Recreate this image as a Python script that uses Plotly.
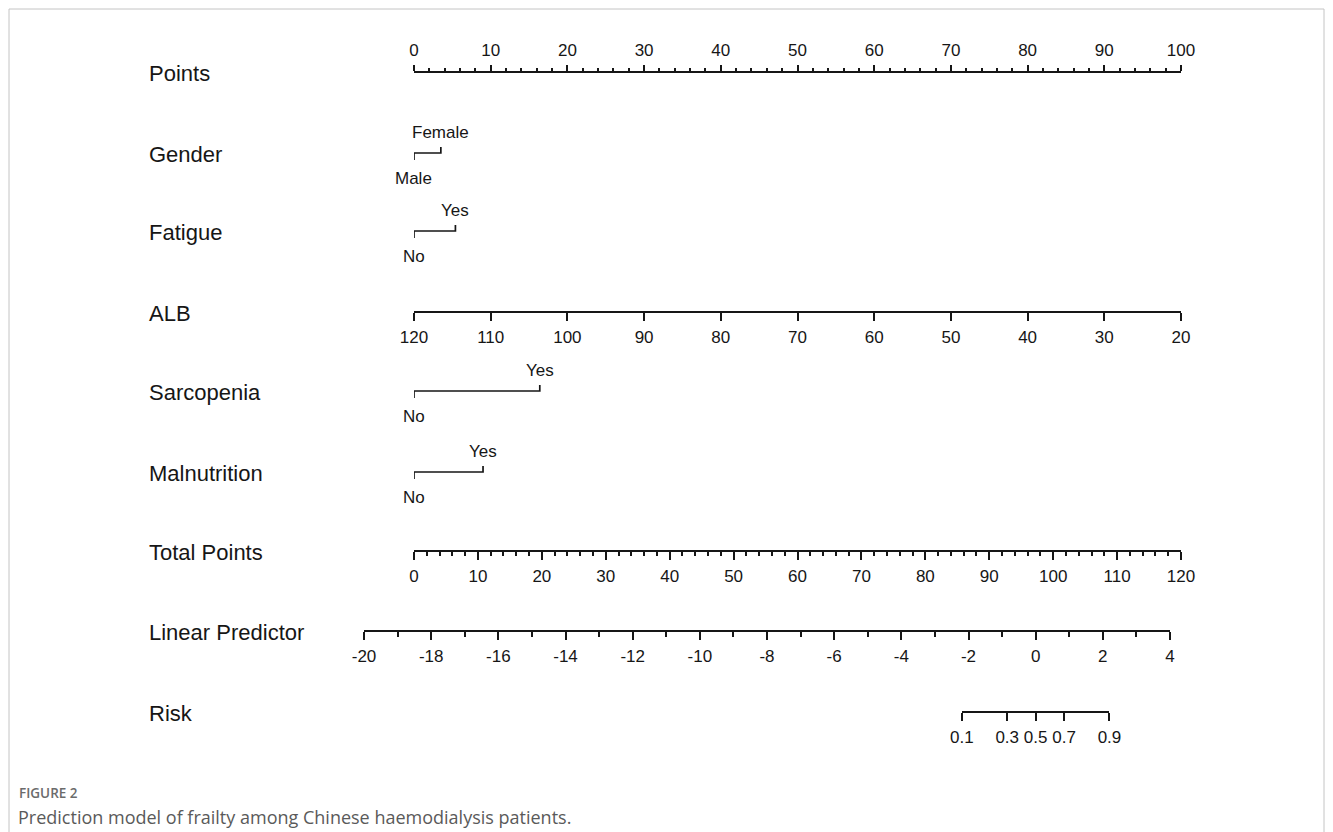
import math
import plotly.graph_objects as go

# ---------------- data ----------------
points_ticks = list(range(0, 101, 10))
alb_ticks = list(range(120, 19, -10))
total_ticks = list(range(0, 121, 10))
lp_ticks = list(range(-20, 5, 2))
risk_ticks = [0.1, 0.3, 0.5, 0.7, 0.9]

gender_levels = ["Male", "Female"]
gender_points = [0, 3.5]
fatigue_levels = ["No", "Yes"]
fatigue_points = [0, 5.4]
sarcopenia_levels = ["No", "Yes"]
sarcopenia_points = [0, 16.4]
malnutrition_levels = ["No", "Yes"]
malnutrition_points = [0, 9.0]

row_names = ["Points", "Gender", "Fatigue", "ALB", "Sarcopenia",
             "Malnutrition", "Total Points", "Linear Predictor", "Risk"]

# ---------------- layout constants ----------------
W, H = 1333, 832
ROW_Y = {"Points": 72, "Gender": 153, "Fatigue": 231, "ALB": 312,
         "Sarcopenia": 391, "Malnutrition": 472, "Total Points": 551,
         "Linear Predictor": 631, "Risk": 712}
LABEL_X = 147
X0, X1 = 414, 1181        # span of Points / ALB / Total Points axes
LP0, LP1 = 364, 1170      # span of Linear Predictor axis

FONT = "Liberation Sans, Arial, sans-serif"
CAP_FONT = "Open Sans, Noto Sans, sans-serif"
INK = "#161616"


def fx(px):
    return px / W


def fy(py):
    return 1 - py / H


def lp_px(v):
    return LP0 + (v - lp_ticks[0]) / (lp_ticks[-1] - lp_ticks[0]) * (LP1 - LP0)


def logit(p):
    return math.log(p / (1 - p))


def axis_style(side, ticklen, minor_dtick=None, minor_len=0):
    d = dict(
        anchor="free", side=side, showline=True, linecolor=INK, linewidth=1.7,
        ticks="outside", ticklen=ticklen, tickwidth=1.5, tickcolor=INK,
        showgrid=False, zeroline=False, fixedrange=True, automargin=False,
        tickfont=dict(family=FONT, size=17, color=INK),
        ticklabelstandoff=2,
    )
    if minor_dtick:
        d["minor"] = dict(dtick=minor_dtick, ticks="outside", ticklen=minor_len,
                          tickwidth=1.5, tickcolor=INK, showgrid=False)
    return d


fig = go.Figure()


def anchor_trace(xs, axis, row):
    fig.add_trace(go.Scatter(x=xs, y=[ROW_Y[row]] * len(xs), xaxis=axis, yaxis="y",
                             mode="markers", marker=dict(opacity=0),
                             hoverinfo="skip", showlegend=False))


anchor_trace(points_ticks, "x", "Points")
anchor_trace(alb_ticks, "x2", "ALB")
anchor_trace(total_ticks, "x3", "Total Points")
anchor_trace(lp_ticks, "x4", "Linear Predictor")
anchor_trace([logit(p) for p in risk_ticks], "x5", "Risk")

annotations = []

# categorical brackets
cats = [("Gender", gender_levels, gender_points),
        ("Fatigue", fatigue_levels, fatigue_points),
        ("Sarcopenia", sarcopenia_levels, sarcopenia_points),
        ("Malnutrition", malnutrition_levels, malnutrition_points)]
for name, levels, pts in cats:
    r = ROW_Y[name]
    fig.add_trace(go.Scatter(
        x=[pts[0], pts[0], pts[1], pts[1]], y=[r + 7, r, r, r - 6],
        xaxis="x", yaxis="y", mode="lines",
        line=dict(color=INK, width=1.7), hoverinfo="skip", showlegend=False,
        cliponaxis=False))
    annotations.append(dict(x=pts[0], y=r + 25, xref="x", yref="y", text=levels[0],
                            showarrow=False, xanchor="center", yanchor="middle",
                            font=dict(family=FONT, size=17, color=INK)))
    annotations.append(dict(x=pts[1], y=r - 21, xref="x", yref="y", text=levels[1],
                            showarrow=False, xanchor="center", yanchor="middle",
                            font=dict(family=FONT, size=17, color=INK)))

# row labels
for name in row_names:
    annotations.append(dict(x=fx(LABEL_X), y=ROW_Y[name] + 1, xref="paper", yref="y",
                            text=name, showarrow=False, xanchor="left", yanchor="middle",
                            font=dict(family=FONT, size=22, color=INK)))

# caption
annotations.append(dict(x=fx(17), y=fy(793), xref="paper", yref="paper", text="FIGURE 2",
                        showarrow=False, xanchor="left", yanchor="middle",
                        font=dict(family=CAP_FONT, size=13.5, color="#6b6b6b", weight=600)))
annotations.append(dict(x=fx(16), y=fy(817), xref="paper", yref="paper",
                        text="Prediction model of frailty among Chinese haemodialysis patients.",
                        showarrow=False, xanchor="left", yanchor="middle",
                        font=dict(family=CAP_FONT, size=18, color="#5a5a5a")))

risk_lo, risk_hi = logit(risk_ticks[0]), logit(risk_ticks[-1])

fig.update_layout(
    template="none",
    width=W, height=H, autosize=False,
    margin=dict(l=0, r=0, t=0, b=0, pad=0, autoexpand=False),
    paper_bgcolor="white", plot_bgcolor="rgba(0,0,0,0)",
    showlegend=False,
    yaxis=dict(domain=[0, 1], range=[H, 0], visible=False, fixedrange=True,
               automargin=False),
    xaxis=dict(domain=[fx(X0), fx(X1)], range=[points_ticks[0], points_ticks[-1]],
               position=fy(ROW_Y["Points"]), tickmode="array", tickvals=points_ticks,
               ticktext=[str(v) for v in points_ticks],
               **axis_style("top", 6, 2, 3)),
    xaxis2=dict(domain=[fx(X0), fx(X1)], range=[alb_ticks[0], alb_ticks[-1]],
                position=fy(ROW_Y["ALB"]), tickmode="array", tickvals=alb_ticks,
                ticktext=[str(v) for v in alb_ticks],
                **axis_style("bottom", 8)),
    xaxis3=dict(domain=[fx(X0), fx(X1)], range=[total_ticks[0], total_ticks[-1]],
                position=fy(ROW_Y["Total Points"]), tickmode="array", tickvals=total_ticks,
                ticktext=[str(v) for v in total_ticks],
                **axis_style("bottom", 8, 2, 4)),
    xaxis4=dict(domain=[fx(LP0), fx(LP1)], range=[lp_ticks[0], lp_ticks[-1]],
                position=fy(ROW_Y["Linear Predictor"]), tickmode="array", tickvals=lp_ticks,
                ticktext=[str(v) for v in lp_ticks],
                **axis_style("bottom", 8, 1, 5)),
    xaxis5=dict(domain=[fx(lp_px(risk_lo)), fx(lp_px(risk_hi))], range=[risk_lo, risk_hi],
                position=fy(ROW_Y["Risk"]), tickmode="array",
                tickvals=[logit(p) for p in risk_ticks],
                ticktext=[f"{p:g}" for p in risk_ticks],
                **axis_style("bottom", 8)),
    annotations=annotations,
    shapes=[dict(type="rect", xref="paper", yref="paper",
                 x0=fx(9), x1=fx(1324), y0=fy(850), y1=fy(9),
                 line=dict(color="#c4c4c4", width=1), fillcolor="rgba(0,0,0,0)",
                 layer="below")],
)

fig.write_html("out.html", post_script="document.body.style.margin='0';",
               config={"displayModeBar": False})
